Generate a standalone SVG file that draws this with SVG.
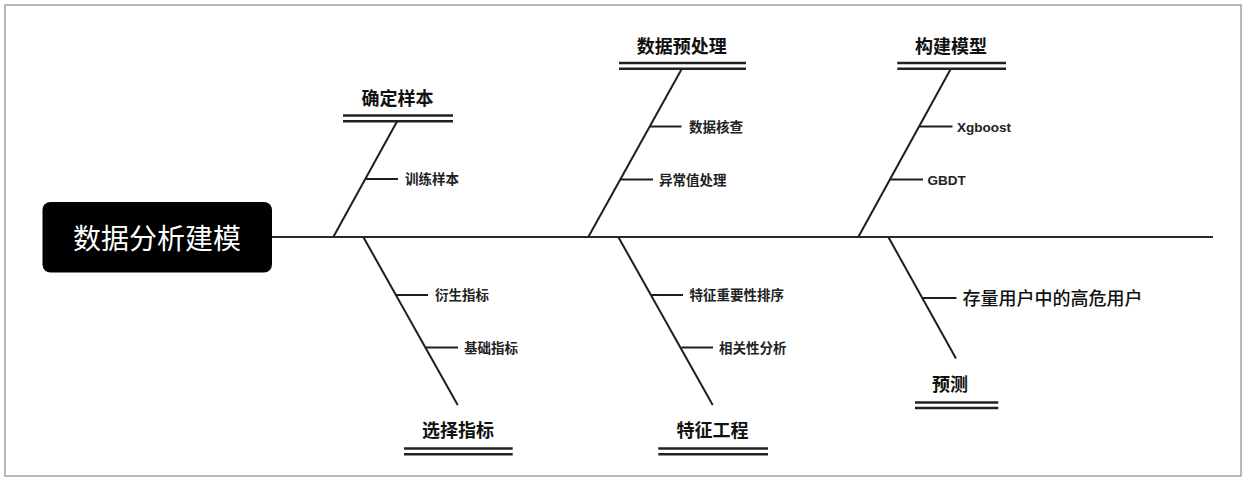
<svg xmlns="http://www.w3.org/2000/svg" width="1245" height="480" viewBox="0 0 1245 480">
<defs>
<style>
.frame{fill:#fff;stroke:#8a8a8a;stroke-width:1.2}
.ln{stroke:#1e1e1e;stroke-width:2;fill:none;stroke-linecap:butt}
.spine{stroke:#2a2a2a;stroke-width:2.2}
.dbl{stroke:#222;stroke-width:2.4}
.title{font-family:"Noto Sans CJK SC","Liberation Sans",sans-serif;font-size:18px;font-weight:bold;fill:#111;text-anchor:middle;dominant-baseline:central}
.sub{font-family:"Liberation Sans","Noto Sans CJK SC",sans-serif;font-size:13.5px;font-weight:bold;fill:#222;dominant-baseline:central}
.big{font-size:18px;font-weight:500;fill:#111}
.root{font-family:"Noto Sans CJK SC",sans-serif;font-size:28px;fill:#fff;text-anchor:middle;dominant-baseline:central}
</style>
</defs>
<rect class="frame" x="5" y="5" width="1236" height="471"/>

<g id="connectors">
<line class="ln spine" x1="272" y1="237" x2="1213" y2="237"/>
<line class="ln" x1="333.3" y1="237" x2="397" y2="121.5"/>
<line class="ln" x1="363.3" y1="237" x2="457.7" y2="405"/>
<line class="ln" x1="588.3" y1="237" x2="681.7" y2="69"/>
<line class="ln" x1="618.3" y1="237" x2="712.7" y2="405"/>
<line class="ln" x1="858.3" y1="237" x2="950.7" y2="69"/>
<line class="ln" x1="888.3" y1="237" x2="956" y2="358.5"/>
<line class="ln" x1="366" y1="179" x2="398" y2="179"/>
<line class="ln" x1="396" y1="295" x2="428" y2="295"/>
<line class="ln" x1="426" y1="347.5" x2="458" y2="347.5"/>
<line class="ln" x1="650" y1="126.5" x2="681.5" y2="126.5"/>
<line class="ln" x1="620.5" y1="179.5" x2="653" y2="179.5"/>
<line class="ln" x1="651.5" y1="295" x2="683" y2="295"/>
<line class="ln" x1="681.5" y1="347.5" x2="713" y2="347.5"/>
<line class="ln" x1="919.5" y1="126.5" x2="952.5" y2="126.5"/>
<line class="ln" x1="890" y1="179.5" x2="923" y2="179.5"/>
<line class="ln" x1="923" y1="298" x2="956.5" y2="298"/>
</g>

<g id="root">
<rect x="42.5" y="202" width="229.5" height="70.5" rx="8" fill="#000"/>
<text class="root" x="157" y="237">数据分析建模</text>
</g>

<g id="b-quedingyangben">
<text class="title" x="397.5" y="97">确定样本</text>
<line class="dbl" x1="343" y1="115.5" x2="453" y2="115.5"/>
<line class="dbl" x1="343" y1="121.2" x2="453" y2="121.2"/>
</g>
<g id="n-xunlian"><text class="sub" x="405" y="179.5">训练样本</text></g>

<g id="b-xuanzezhibiao">
<text class="title" x="458" y="429">选择指标</text>
<line class="dbl" x1="404" y1="448.5" x2="512.7" y2="448.5"/>
<line class="dbl" x1="404" y1="454.2" x2="512.7" y2="454.2"/>
</g>
<g id="n-yansheng"><text class="sub" x="435" y="295.5">衍生指标</text></g>
<g id="n-jichu"><text class="sub" x="464" y="348">基础指标</text></g>

<g id="b-yuchuli">
<text class="title" x="681.7" y="45">数据预处理</text>
<line class="dbl" x1="619" y1="63" x2="746" y2="63"/>
<line class="dbl" x1="619" y1="68.7" x2="746" y2="68.7"/>
</g>
<g id="n-hecha"><text class="sub" x="689" y="127">数据核查</text></g>
<g id="n-yichang"><text class="sub" x="659" y="180">异常值处理</text></g>

<g id="b-tezheng">
<text class="title" x="712.5" y="429">特征工程</text>
<line class="dbl" x1="658.3" y1="448.5" x2="768" y2="448.5"/>
<line class="dbl" x1="658.3" y1="454.2" x2="768" y2="454.2"/>
</g>
<g id="n-zhongyao"><text class="sub" x="689.5" y="295.5">特征重要性排序</text></g>
<g id="n-xiangguan"><text class="sub" x="719" y="348">相关性分析</text></g>

<g id="b-moxing">
<text class="title" x="951" y="45">构建模型</text>
<line class="dbl" x1="897.3" y1="63" x2="1006" y2="63"/>
<line class="dbl" x1="897.3" y1="68.7" x2="1006" y2="68.7"/>
</g>
<g id="n-xgboost"><text class="sub" x="957" y="127">Xgboost</text></g>
<g id="n-gbdt"><text class="sub" x="927.5" y="180">GBDT</text></g>

<g id="b-yuce">
<text class="title" x="950" y="383">预测</text>
<line class="dbl" x1="915" y1="402.5" x2="998.3" y2="402.5"/>
<line class="dbl" x1="915" y1="408" x2="998.3" y2="408"/>
</g>
<g id="n-gaowei"><text class="sub big" x="962.5" y="298.5">存量用户中的高危用户</text></g>
</svg>
